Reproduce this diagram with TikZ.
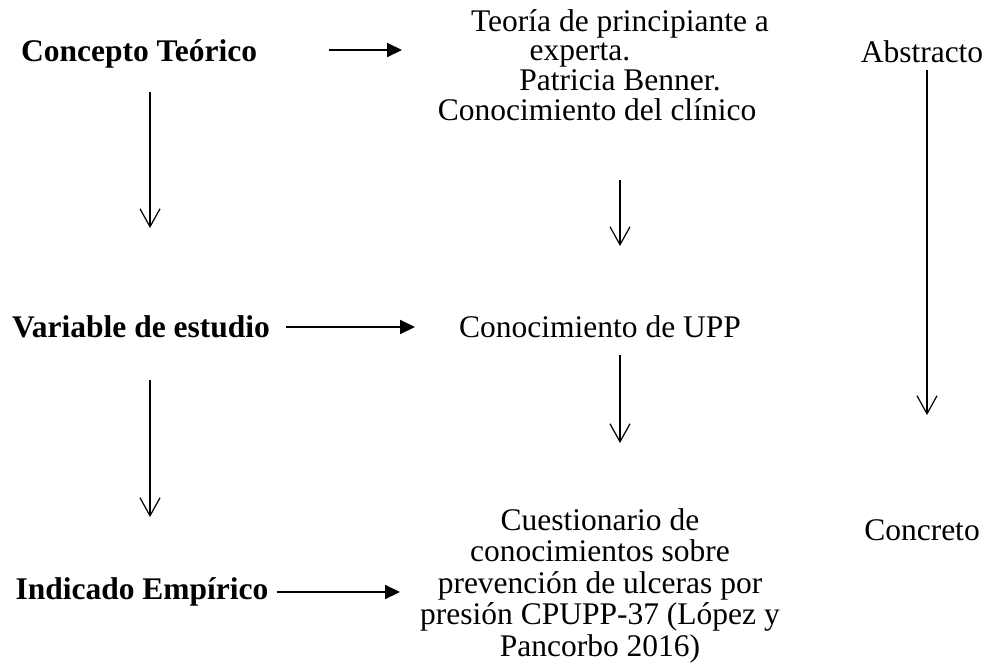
\documentclass[tikz,border=0pt]{standalone}
\usepackage{fontspec}
\setmainfont{Liberation Serif}
\usetikzlibrary{arrows.meta}

\newcommand{\diagfont}{\fontsize{15.75pt}{15.75pt}\selectfont}
\tikzset{
  lbl/.style={anchor=base,inner sep=0pt,font=\diagfont\bfseries},
  txt/.style={anchor=base,inner sep=0pt,align=center,font=\diagfont},
  harrow/.style={line width=1pt,-{Triangle[length=7.5pt,width=7pt]}},
  varrow/.style={line width=0.6pt,-{Straight Barb[length=9pt,width=10pt]}}
}

\begin{document}
\begin{tikzpicture}[x=0.5pt,y=-0.5pt]
  \useasboundingbox (0,0) rectangle (987,665);
  % left column
  \node[lbl] (concepto) at (139,61) {Concepto Teórico};
  \node[lbl] (variable) at (141,337) {Variable de estudio};
  \node[lbl] (indicado) at (142,599) {Indicado Empírico};
  % middle column (base = last line)
  \node[txt,font=\fontsize{15.75pt}{14.8pt}\selectfont] (teoria) at (620,120)
    {Teoría de principiante a\\ experta.\rule{40pt}{0pt}\\ Patricia Benner.\\
    Conocimiento del clínico\rule{23pt}{0pt}};
  \node[txt] (upp) at (600,337) {Conocimiento de UPP};
  \node[txt] (cuest) at (600,656) {Cuestionario de\\ conocimientos sobre\\
    prevención de ulceras por\\ presión CPUPP-37 (López y\\ Pancorbo 2016)};
  % right column
  \node[txt] (abstracto) at (922,62) {Abstracto};
  \node[txt] (concreto) at (922,540) {Concreto};

  \coordinate (t1) at (402,50);
  \coordinate (t2) at (415,327);
  \coordinate (t3) at (400,592);
  \draw[harrow,shorten <=36pt] (concepto.east |- t1) -- (t1);
  \draw[harrow,shorten <=8pt] (variable.east |- t2) -- (t2);
  \draw[harrow,shorten <=4pt] (indicado.east |- t3) -- (t3);

  \coordinate (l1) at (150,92);  \coordinate (l2) at (150,228);
  \coordinate (l3) at (150,380); \coordinate (l4) at (150,517);
  \coordinate (m1) at (620,180); \coordinate (m2) at (620,246);
  \coordinate (m3) at (620,355); \coordinate (m4) at (620,443);
  \coordinate (r1) at (927,70);  \coordinate (r2) at (927,415);
  \draw[varrow] (l1) -- (l2);
  \draw[varrow] (l3) -- (l4);
  \draw[varrow] (m1) -- (m2);
  \draw[varrow] (m3) -- (m4);
  \draw[varrow] (r1) -- (r2);
\end{tikzpicture}
\end{document}
